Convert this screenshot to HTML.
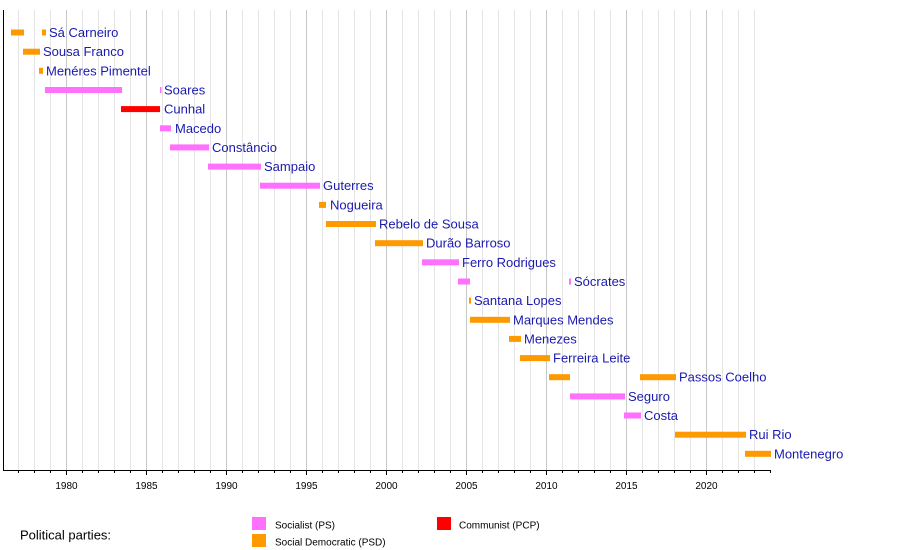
<!DOCTYPE html>
<html><head><meta charset="utf-8">
<style>
html,body{margin:0;padding:0;background:#fff;}
svg{display:block;}
text{font-family:"Liberation Sans",Arial,sans-serif;}
</style></head>
<body>
<svg width="900" height="550" viewBox="0 0 900 550" xmlns="http://www.w3.org/2000/svg">
<rect x="0" y="0" width="900" height="550" fill="#fff"/>
<g id="grid" stroke-width="1">
<line x1="18.5" y1="10" x2="18.5" y2="470" stroke="#e4e4e4"/>
<line x1="34.5" y1="10" x2="34.5" y2="470" stroke="#e4e4e4"/>
<line x1="50.5" y1="10" x2="50.5" y2="470" stroke="#e4e4e4"/>
<line x1="66.5" y1="10" x2="66.5" y2="470" stroke="#c8c8c8"/>
<line x1="82.5" y1="10" x2="82.5" y2="470" stroke="#e4e4e4"/>
<line x1="98.5" y1="10" x2="98.5" y2="470" stroke="#e4e4e4"/>
<line x1="114.5" y1="10" x2="114.5" y2="470" stroke="#e4e4e4"/>
<line x1="130.5" y1="10" x2="130.5" y2="470" stroke="#e4e4e4"/>
<line x1="146.5" y1="10" x2="146.5" y2="470" stroke="#c8c8c8"/>
<line x1="162.5" y1="10" x2="162.5" y2="470" stroke="#e4e4e4"/>
<line x1="178.5" y1="10" x2="178.5" y2="470" stroke="#e4e4e4"/>
<line x1="194.5" y1="10" x2="194.5" y2="470" stroke="#e4e4e4"/>
<line x1="210.5" y1="10" x2="210.5" y2="470" stroke="#e4e4e4"/>
<line x1="226.5" y1="10" x2="226.5" y2="470" stroke="#c8c8c8"/>
<line x1="242.5" y1="10" x2="242.5" y2="470" stroke="#e4e4e4"/>
<line x1="258.5" y1="10" x2="258.5" y2="470" stroke="#e4e4e4"/>
<line x1="274.5" y1="10" x2="274.5" y2="470" stroke="#e4e4e4"/>
<line x1="290.5" y1="10" x2="290.5" y2="470" stroke="#e4e4e4"/>
<line x1="306.5" y1="10" x2="306.5" y2="470" stroke="#c8c8c8"/>
<line x1="322.5" y1="10" x2="322.5" y2="470" stroke="#e4e4e4"/>
<line x1="338.5" y1="10" x2="338.5" y2="470" stroke="#e4e4e4"/>
<line x1="354.5" y1="10" x2="354.5" y2="470" stroke="#e4e4e4"/>
<line x1="370.5" y1="10" x2="370.5" y2="470" stroke="#e4e4e4"/>
<line x1="386.5" y1="10" x2="386.5" y2="470" stroke="#c8c8c8"/>
<line x1="402.5" y1="10" x2="402.5" y2="470" stroke="#e4e4e4"/>
<line x1="418.5" y1="10" x2="418.5" y2="470" stroke="#e4e4e4"/>
<line x1="434.5" y1="10" x2="434.5" y2="470" stroke="#e4e4e4"/>
<line x1="450.5" y1="10" x2="450.5" y2="470" stroke="#e4e4e4"/>
<line x1="466.5" y1="10" x2="466.5" y2="470" stroke="#c8c8c8"/>
<line x1="482.5" y1="10" x2="482.5" y2="470" stroke="#e4e4e4"/>
<line x1="498.5" y1="10" x2="498.5" y2="470" stroke="#e4e4e4"/>
<line x1="514.5" y1="10" x2="514.5" y2="470" stroke="#e4e4e4"/>
<line x1="530.5" y1="10" x2="530.5" y2="470" stroke="#e4e4e4"/>
<line x1="546.5" y1="10" x2="546.5" y2="470" stroke="#c8c8c8"/>
<line x1="562.5" y1="10" x2="562.5" y2="470" stroke="#e4e4e4"/>
<line x1="578.5" y1="10" x2="578.5" y2="470" stroke="#e4e4e4"/>
<line x1="594.5" y1="10" x2="594.5" y2="470" stroke="#e4e4e4"/>
<line x1="610.5" y1="10" x2="610.5" y2="470" stroke="#e4e4e4"/>
<line x1="626.5" y1="10" x2="626.5" y2="470" stroke="#c8c8c8"/>
<line x1="642.5" y1="10" x2="642.5" y2="470" stroke="#e4e4e4"/>
<line x1="658.5" y1="10" x2="658.5" y2="470" stroke="#e4e4e4"/>
<line x1="674.5" y1="10" x2="674.5" y2="470" stroke="#e4e4e4"/>
<line x1="690.5" y1="10" x2="690.5" y2="470" stroke="#e4e4e4"/>
<line x1="706.5" y1="10" x2="706.5" y2="470" stroke="#c8c8c8"/>
<line x1="722.5" y1="10" x2="722.5" y2="470" stroke="#e4e4e4"/>
<line x1="738.5" y1="10" x2="738.5" y2="470" stroke="#e4e4e4"/>
<line x1="754.5" y1="10" x2="754.5" y2="470" stroke="#e4e4e4"/>
</g>

<line x1="3.5" y1="10" x2="3.5" y2="471" stroke="#000" stroke-width="1"/>
<line x1="3" y1="470.5" x2="770.5" y2="470.5" stroke="#000" stroke-width="1"/>

<g stroke="#000" stroke-width="1">
<line x1="18.5" y1="470" x2="18.5" y2="473"/>
<line x1="34.5" y1="470" x2="34.5" y2="473"/>
<line x1="50.5" y1="470" x2="50.5" y2="473"/>
<line x1="66.5" y1="470" x2="66.5" y2="475"/>
<line x1="82.5" y1="470" x2="82.5" y2="473"/>
<line x1="98.5" y1="470" x2="98.5" y2="473"/>
<line x1="114.5" y1="470" x2="114.5" y2="473"/>
<line x1="130.5" y1="470" x2="130.5" y2="473"/>
<line x1="146.5" y1="470" x2="146.5" y2="475"/>
<line x1="162.5" y1="470" x2="162.5" y2="473"/>
<line x1="178.5" y1="470" x2="178.5" y2="473"/>
<line x1="194.5" y1="470" x2="194.5" y2="473"/>
<line x1="210.5" y1="470" x2="210.5" y2="473"/>
<line x1="226.5" y1="470" x2="226.5" y2="475"/>
<line x1="242.5" y1="470" x2="242.5" y2="473"/>
<line x1="258.5" y1="470" x2="258.5" y2="473"/>
<line x1="274.5" y1="470" x2="274.5" y2="473"/>
<line x1="290.5" y1="470" x2="290.5" y2="473"/>
<line x1="306.5" y1="470" x2="306.5" y2="475"/>
<line x1="322.5" y1="470" x2="322.5" y2="473"/>
<line x1="338.5" y1="470" x2="338.5" y2="473"/>
<line x1="354.5" y1="470" x2="354.5" y2="473"/>
<line x1="370.5" y1="470" x2="370.5" y2="473"/>
<line x1="386.5" y1="470" x2="386.5" y2="475"/>
<line x1="402.5" y1="470" x2="402.5" y2="473"/>
<line x1="418.5" y1="470" x2="418.5" y2="473"/>
<line x1="434.5" y1="470" x2="434.5" y2="473"/>
<line x1="450.5" y1="470" x2="450.5" y2="473"/>
<line x1="466.5" y1="470" x2="466.5" y2="475"/>
<line x1="482.5" y1="470" x2="482.5" y2="473"/>
<line x1="498.5" y1="470" x2="498.5" y2="473"/>
<line x1="514.5" y1="470" x2="514.5" y2="473"/>
<line x1="530.5" y1="470" x2="530.5" y2="473"/>
<line x1="546.5" y1="470" x2="546.5" y2="475"/>
<line x1="562.5" y1="470" x2="562.5" y2="473"/>
<line x1="578.5" y1="470" x2="578.5" y2="473"/>
<line x1="594.5" y1="470" x2="594.5" y2="473"/>
<line x1="610.5" y1="470" x2="610.5" y2="473"/>
<line x1="626.5" y1="470" x2="626.5" y2="475"/>
<line x1="642.5" y1="470" x2="642.5" y2="473"/>
<line x1="658.5" y1="470" x2="658.5" y2="473"/>
<line x1="674.5" y1="470" x2="674.5" y2="473"/>
<line x1="690.5" y1="470" x2="690.5" y2="473"/>
<line x1="706.5" y1="470" x2="706.5" y2="475"/>
<line x1="722.5" y1="470" x2="722.5" y2="473"/>
<line x1="738.5" y1="470" x2="738.5" y2="473"/>
<line x1="754.5" y1="470" x2="754.5" y2="473"/>
<line x1="770.5" y1="470" x2="770.5" y2="473"/>
</g>
<g font-size="10" fill="#000" text-anchor="middle">
<text x="66.5" y="489">1980</text>
<text x="146.5" y="489">1985</text>
<text x="226.5" y="489">1990</text>
<text x="306.5" y="489">1995</text>
<text x="386.5" y="489">2000</text>
<text x="466.5" y="489">2005</text>
<text x="546.5" y="489">2010</text>
<text x="626.5" y="489">2015</text>
<text x="706.5" y="489">2020</text>
</g>

<g>
<rect x="11" y="29.5" width="13" height="6" fill="#ff9900"/>
<rect x="42" y="29.5" width="4" height="6" fill="#ff9900"/>
<rect x="23" y="48.7" width="17" height="6" fill="#ff9900"/>
<rect x="39" y="67.8" width="4" height="6" fill="#ff9900"/>
<rect x="45" y="87" width="77" height="6" fill="#ff70ff"/>
<rect x="160" y="87" width="1.5" height="6" fill="#ff70ff"/>
<rect x="121" y="106.1" width="39" height="6" fill="#ff0000"/>
<rect x="160" y="125.3" width="11" height="6" fill="#ff70ff"/>
<rect x="170" y="144.4" width="39" height="6" fill="#ff70ff"/>
<rect x="208" y="163.6" width="53" height="6" fill="#ff70ff"/>
<rect x="260" y="182.7" width="60" height="6" fill="#ff70ff"/>
<rect x="319" y="201.9" width="7" height="6" fill="#ff9900"/>
<rect x="326" y="221" width="50" height="6" fill="#ff9900"/>
<rect x="375" y="240.2" width="48" height="6" fill="#ff9900"/>
<rect x="422" y="259.3" width="37" height="6" fill="#ff70ff"/>
<rect x="458" y="278.5" width="12" height="6" fill="#ff70ff"/>
<rect x="569" y="278.5" width="2" height="6" fill="#ff70ff"/>
<rect x="469" y="297.6" width="2" height="6" fill="#ff9900"/>
<rect x="470" y="316.8" width="40" height="6" fill="#ff9900"/>
<rect x="509" y="335.9" width="12" height="6" fill="#ff9900"/>
<rect x="520" y="355.1" width="30" height="6" fill="#ff9900"/>
<rect x="549" y="374.2" width="21" height="6" fill="#ff9900"/>
<rect x="640" y="374.2" width="36" height="6" fill="#ff9900"/>
<rect x="570" y="393.4" width="55" height="6" fill="#ff70ff"/>
<rect x="624" y="412.5" width="17" height="6" fill="#ff70ff"/>
<rect x="675" y="431.7" width="71" height="6" fill="#ff9900"/>
<rect x="745" y="450.8" width="26" height="6" fill="#ff9900"/>
</g>

<g font-size="13" fill="#1a1ab0">
<text x="49" y="37">Sá Carneiro</text>
<text x="43" y="56.2">Sousa Franco</text>
<text x="46" y="75.3">Menéres Pimentel</text>
<text x="164" y="94.5">Soares</text>
<text x="164" y="113.6">Cunhal</text>
<text x="175" y="132.8">Macedo</text>
<text x="212" y="151.9">Constâncio</text>
<text x="264" y="171.1">Sampaio</text>
<text x="323" y="190.2">Guterres</text>
<text x="330" y="209.4">Nogueira</text>
<text x="379" y="228.5">Rebelo de Sousa</text>
<text x="426" y="247.7">Durão Barroso</text>
<text x="462" y="266.8">Ferro Rodrigues</text>
<text x="574" y="286">Sócrates</text>
<text x="474" y="305.1">Santana Lopes</text>
<text x="513" y="324.3">Marques Mendes</text>
<text x="524" y="343.4">Menezes</text>
<text x="553" y="362.6">Ferreira Leite</text>
<text x="679" y="381.7">Passos Coelho</text>
<text x="628" y="400.9">Seguro</text>
<text x="644" y="420">Costa</text>
<text x="749" y="439.2">Rui Rio</text>
<text x="774" y="458.3">Montenegro</text>
</g>

<text x="20" y="539.5" font-size="13" fill="#000">Political parties:</text>
<rect x="252" y="517" width="14" height="13" fill="#ff70ff"/>
<rect x="252" y="534" width="14" height="13" fill="#ff9900"/>
<rect x="437" y="517" width="14" height="13" fill="#ff0000"/>
<g font-size="10" fill="#000">
<text x="275" y="528.5">Socialist (PS)</text>
<text x="275" y="545.5">Social Democratic (PSD)</text>
<text x="459" y="528.5">Communist (PCP)</text>
</g>
</svg>
</body></html>
